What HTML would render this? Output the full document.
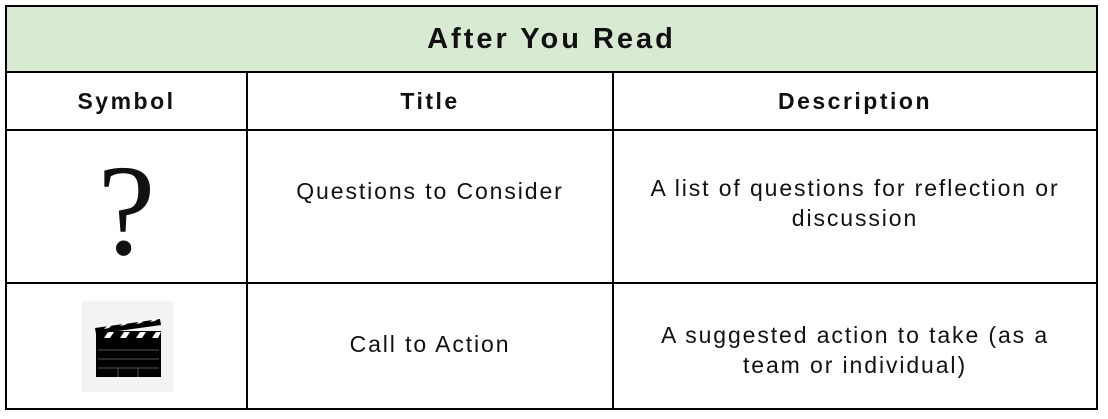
<!DOCTYPE html>
<html><head><style>
body{margin:0;width:1108px;height:419px;background:#fff;position:relative;font-family:"Liberation Sans",sans-serif;color:#111;overflow:hidden}
.a{position:absolute}
.h{background:#000}
.c{position:absolute;display:flex;align-items:center;justify-content:center;text-align:center;font-size:23px;line-height:30px;letter-spacing:1.9px}
</style></head><body>
<div class="a" style="left:6px;top:6px;width:1091px;height:66px;background:#d9ead3"></div>
<div class="a h" style="left:5px;top:5px;width:1093px;height:2px"></div>
<div class="a h" style="left:5px;top:71px;width:1093px;height:2px"></div>
<div class="a h" style="left:5px;top:129px;width:1093px;height:2px"></div>
<div class="a h" style="left:5px;top:282px;width:1093px;height:2px"></div>
<div class="a h" style="left:5px;top:408px;width:1093px;height:2px"></div>
<div class="a h" style="left:5px;top:5px;width:2px;height:405px"></div>
<div class="a h" style="left:1096px;top:5px;width:2px;height:405px"></div>
<div class="a h" style="left:246px;top:72px;width:2px;height:338px"></div>
<div class="a h" style="left:612px;top:72px;width:2px;height:338px"></div>

<div class="c" style="left:7px;top:7px;width:1089px;height:64px;font-weight:bold;font-size:29px;letter-spacing:3px">After You Read</div>
<div class="c" style="left:7px;top:73px;width:239px;height:56px;font-weight:bold;letter-spacing:2.5px">Symbol</div>
<div class="c" style="left:248px;top:73px;width:364px;height:56px;font-weight:bold;letter-spacing:2.5px">Title</div>
<div class="c" style="left:614px;top:73px;width:482px;height:56px;font-weight:bold;letter-spacing:2.5px">Description</div>

<div class="c" style="left:7px;top:135px;width:239px;height:151px;font-family:'Liberation Serif',serif;font-size:130px;line-height:130px;letter-spacing:0">?</div>
<div class="c" style="left:248px;top:131px;width:364px;height:120px">Questions to Consider</div>
<div class="c" style="left:614px;top:131px;width:482px;height:151px;padding-bottom:8px;box-sizing:border-box">A list of questions for reflection or<br>discussion</div>

<div class="a" style="left:82px;top:301px;width:91px;height:91px;background:#f3f3f2"></div>
<svg class="a" style="left:82px;top:301px" width="91" height="91">
<rect x="14" y="38" width="65" height="38" fill="#000"/>
<rect x="14" y="30" width="65" height="8" fill="#000"/>
<g fill="#fff"><polygon points="22,37 26,31 32,31 28,37"/><polygon points="38,37 42,31 48,31 44,37"/><polygon points="54,37 58,31 64,31 60,37"/><polygon points="70,37 74,31 79,31 76,37"/></g>
<polygon points="13,27 78,18 79,24 14,33" fill="#000"/>
<g fill="#fff"><polygon points="22,28 27,23 32,22 27,27"/><polygon points="38,25 43,21 48,20 43,24"/><polygon points="54,23 59,19 64,18 59,22"/><polygon points="68,21 73,17 77,17 73,20"/></g>
<g stroke="#555" stroke-width="1"><line x1="16" y1="49" x2="77" y2="49"/><line x1="16" y1="58" x2="77" y2="58"/><line x1="16" y1="67" x2="77" y2="67"/><line x1="36" y1="67" x2="36" y2="76"/><line x1="56" y1="67" x2="56" y2="76"/></g>
</svg>
<div class="c" style="left:248px;top:284px;width:364px;height:120px">Call to Action</div>
<div class="c" style="left:614px;top:284px;width:482px;height:124px;padding-top:8px;box-sizing:border-box">A suggested action to take (as a<br>team or individual)</div>
</body></html>
